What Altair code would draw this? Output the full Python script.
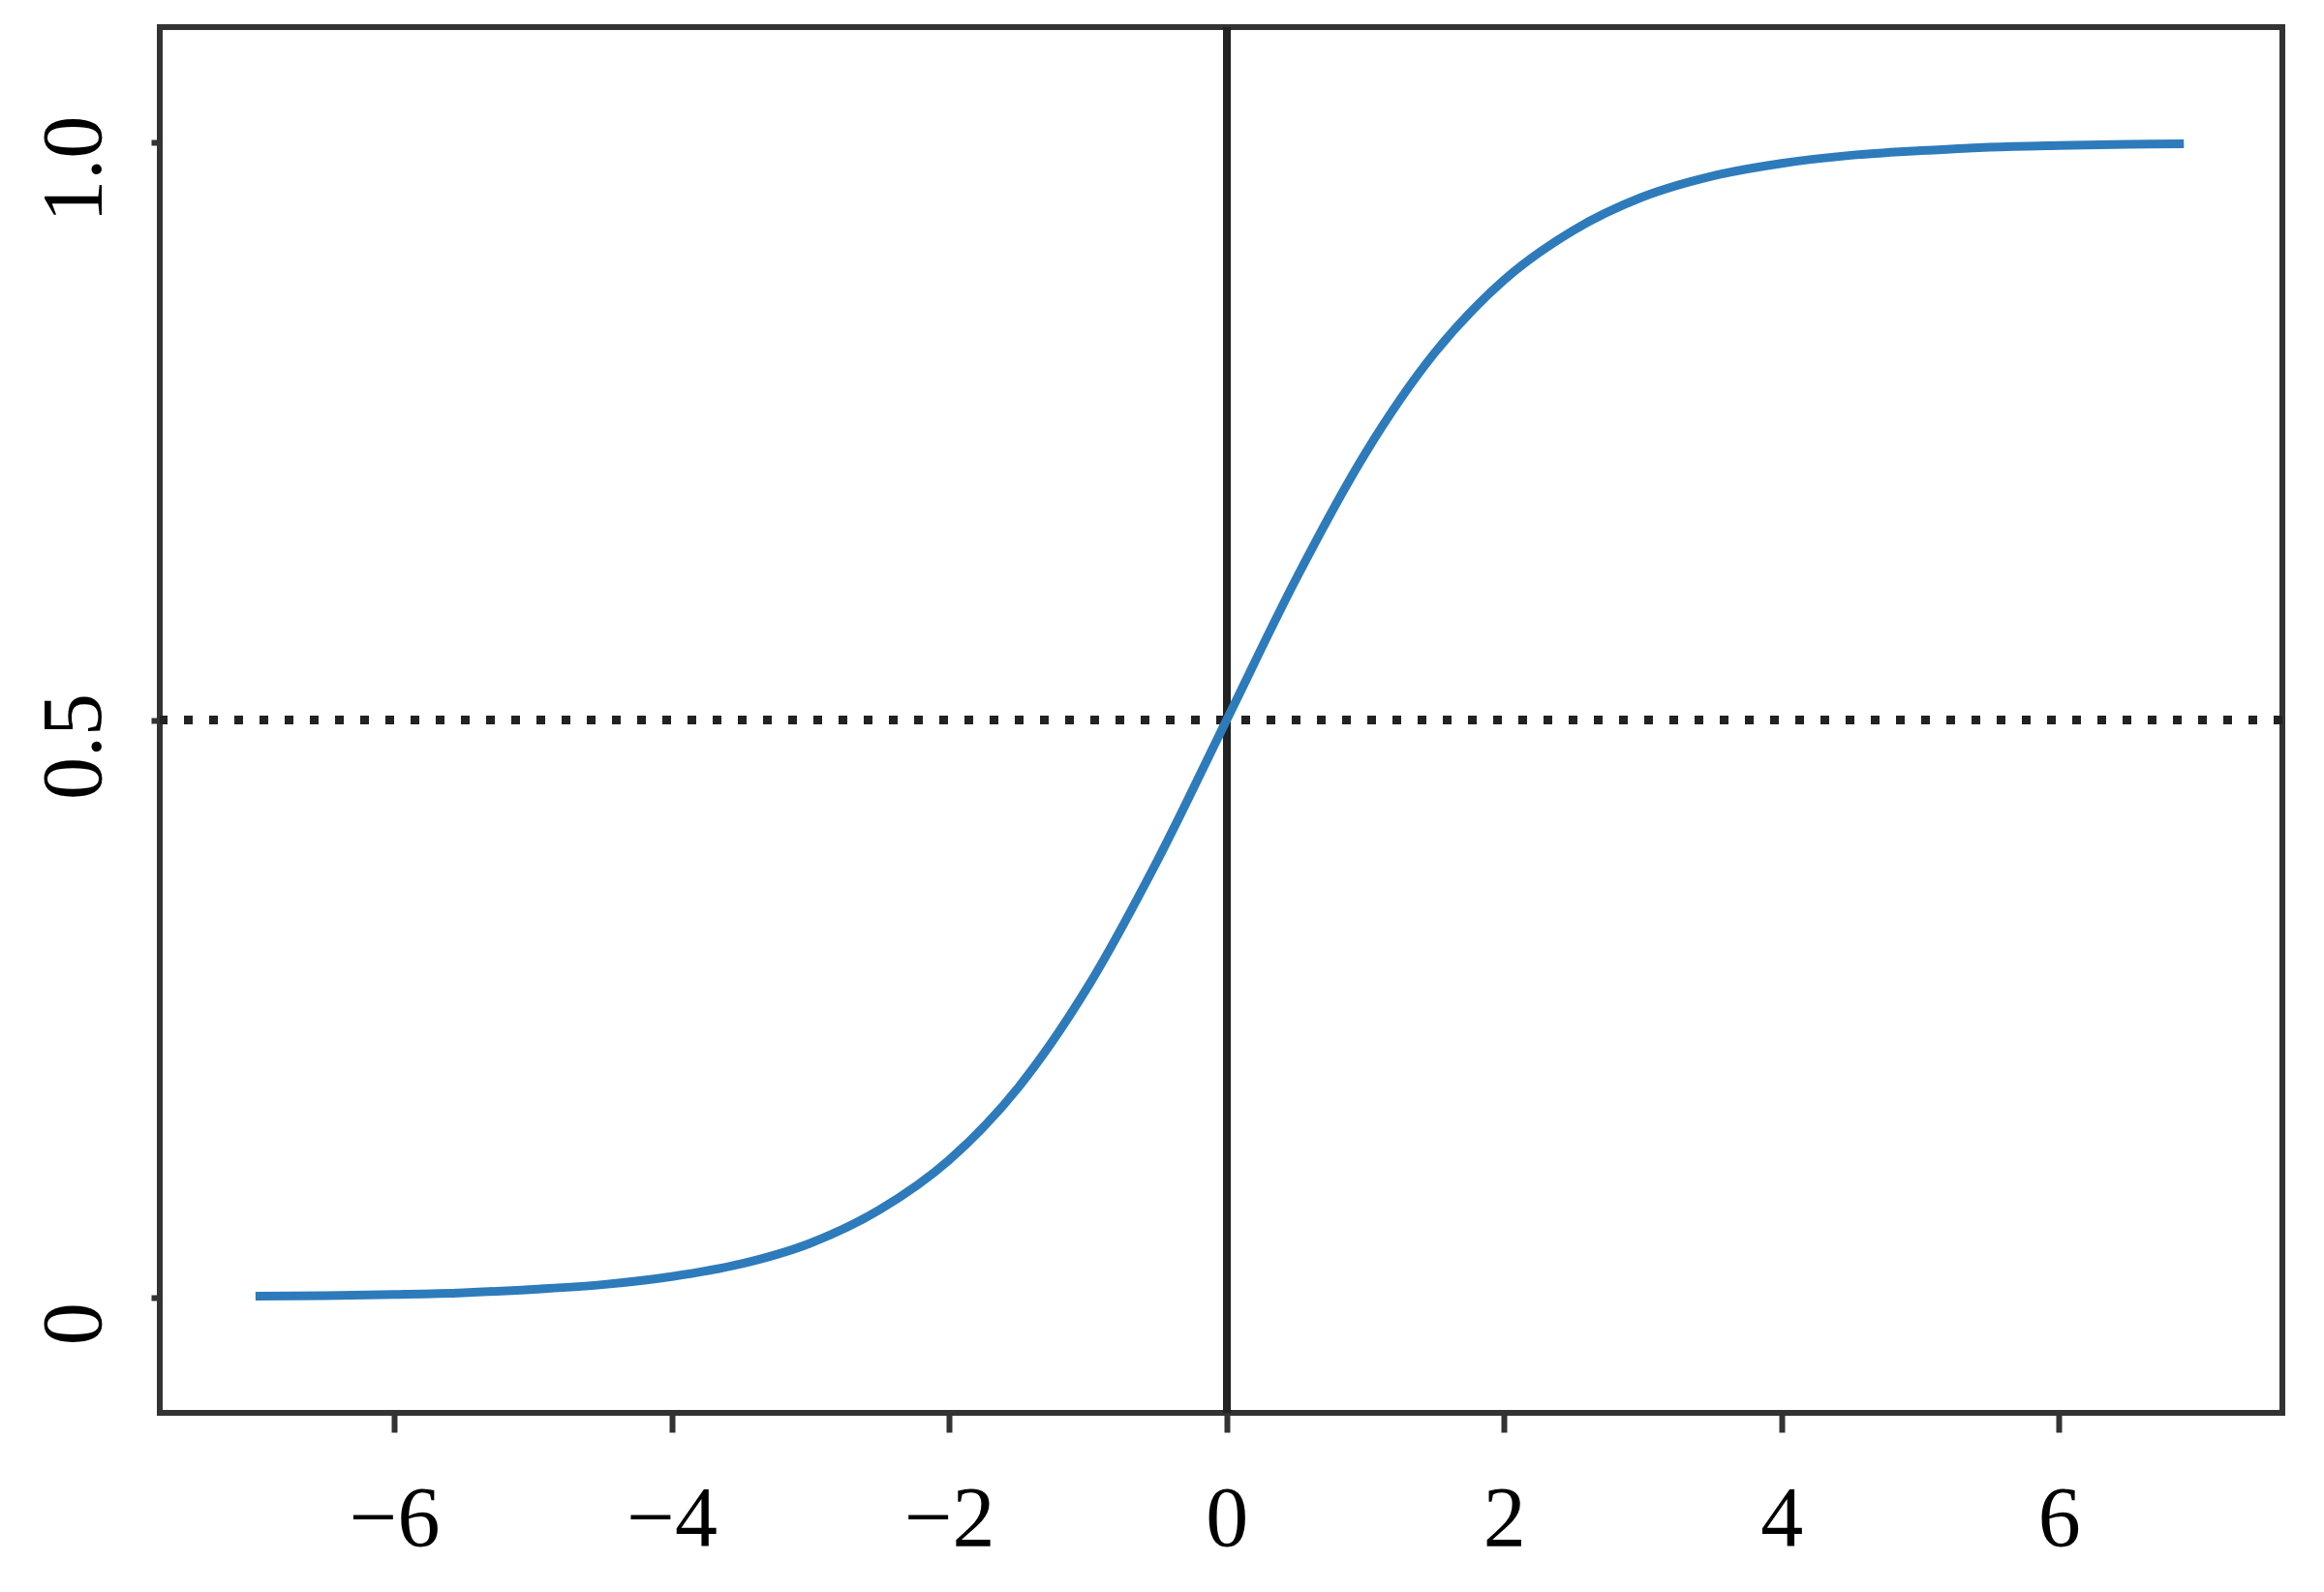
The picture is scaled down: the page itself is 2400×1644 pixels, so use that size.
import altair as alt
import pandas as pd

# values
x_vals = [-7.0, -6.5, -6.0, -5.5, -5.0, -4.5, -4.0, -3.5, -3.0, -2.5, -2.0, -1.5, -1.0, -0.5,
          0.0, 0.5, 1.0, 1.5, 2.0, 2.5, 3.0, 3.5, 4.0, 4.5, 5.0, 5.5, 6.0, 6.5, 6.9]
y_vals = [0.001, 0.0015, 0.0025, 0.004, 0.007, 0.011, 0.018, 0.029, 0.047, 0.076, 0.119, 0.182,
          0.269, 0.378, 0.5, 0.622, 0.731, 0.818, 0.881, 0.924, 0.953, 0.971, 0.982, 0.989,
          0.993, 0.996, 0.9975, 0.9985, 0.999]
x_ticks = [-6, -4, -2, 0, 2, 4, 6]
y_ticks = [0, 0.5, 1.0]

df = pd.DataFrame({"x": x_vals, "y": y_vals})

FONT = "Liberation Serif"
W, H = 2192, 1431

xs = alt.Scale(domain=[-7.69, 7.61], nice=False, zero=False)
ys = alt.Scale(domain=[-0.1, 1.1], nice=False, zero=False)

line = alt.Chart(df).mark_line(color="#2e7bbb", strokeWidth=9, interpolate="monotone").encode(
    x=alt.X("x:Q", scale=xs, axis=alt.Axis(
        values=x_ticks, title=None, grid=False, domain=False,
        tickSize=20, tickWidth=6, tickColor="#333333",
        labelFont=FONT, labelFontSize=88, labelColor="#000000", labelPadding=46,
        labelExpr="replace(format(datum.value, 'd'), '-', '\u2212')",
        labelFlush=False)),
    y=alt.Y("y:Q", scale=ys, axis=alt.Axis(
        values=y_ticks, title=None, grid=False, domain=False,
        tickSize=9, tickWidth=6, tickColor="#333333",
        labelFont=FONT, labelFontSize=88, labelColor="#000000", labelPadding=53,
        labelAngle=270, labelAlign="center", labelBaseline="alphabetic",
        labelOffset=27,
        labelExpr="datum.value == 0 ? '0' : format(datum.value, '.1f')",
        labelFlush=False)),
)

vline = alt.Chart(df).mark_rule(color="#222222", strokeWidth=7).encode(
    x=alt.datum(0, scale=xs)
)
hline = alt.Chart(df).mark_rule(color="#222222", strokeWidth=9, strokeDash=[9, 17]).encode(
    y=alt.datum(0.5, scale=ys)
)

chart = alt.layer(hline, vline, line).properties(
    width=W, height=H,
    autosize=alt.AutoSizeParams(type="none"),
    padding={"left": 157, "top": 20, "right": 35, "bottom": 170},
    background="#ffffff",
).configure_view(stroke="#333333", strokeWidth=6)

chart.save("out.html", embed_options={"renderer": "svg", "actions": False})
